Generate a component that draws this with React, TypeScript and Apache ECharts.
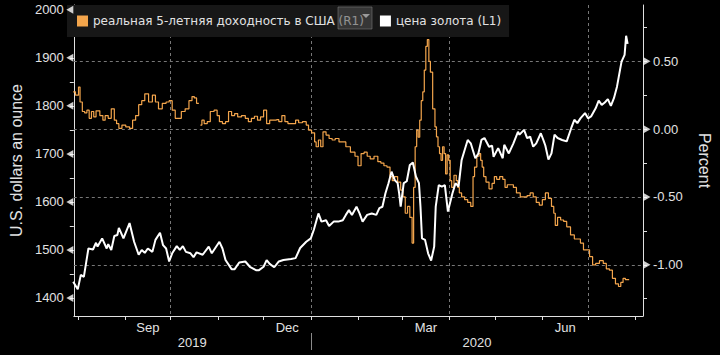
import React, { useEffect, useRef } from "react";
import * as echarts from "echarts";

// ---------- data ----------
const yieldName = "реальная 5-летняя доходность в США (R1)";
const goldName = "цена золота (L1)";

const goldSeries: [string, number][] = [
  ["2019-07-29", 1434], ["2019-08-01", 1418], ["2019-08-03", 1448], ["2019-08-05", 1444],
  ["2019-08-08", 1503], ["2019-08-11", 1501], ["2019-08-13", 1515], ["2019-08-14", 1507],
  ["2019-08-17", 1524], ["2019-08-20", 1503], ["2019-08-21", 1512], ["2019-08-23", 1500],
  ["2019-08-25", 1529], ["2019-08-27", 1531], ["2019-08-28", 1546], ["2019-08-31", 1524],
  ["2019-09-04", 1556], ["2019-09-07", 1517], ["2019-09-10", 1490], ["2019-09-12", 1500],
  ["2019-09-14", 1494], ["2019-09-16", 1503], ["2019-09-19", 1496], ["2019-09-21", 1521],
  ["2019-09-24", 1536], ["2019-09-26", 1510], ["2019-09-28", 1503], ["2019-09-30", 1476],
  ["2019-10-02", 1493], ["2019-10-05", 1508], ["2019-10-07", 1500], ["2019-10-09", 1508],
  ["2019-10-11", 1496], ["2019-10-14", 1493], ["2019-10-16", 1485], ["2019-10-18", 1495],
  ["2019-10-22", 1490], ["2019-10-26", 1507], ["2019-10-28", 1493], ["2019-11-02", 1517],
  ["2019-11-04", 1503], ["2019-11-06", 1479], ["2019-11-10", 1460], ["2019-11-12", 1460],
  ["2019-11-15", 1474], ["2019-11-19", 1476], ["2019-11-22", 1465], ["2019-11-26", 1458],
  ["2019-11-28", 1458], ["2019-12-01", 1465], ["2019-12-03", 1479], ["2019-12-05", 1471],
  ["2019-12-08", 1464], ["2019-12-11", 1476], ["2019-12-14", 1479], ["2019-12-19", 1481],
  ["2019-12-22", 1483], ["2019-12-25", 1504], ["2019-12-29", 1517], ["2020-01-01", 1524],
  ["2020-01-03", 1542], ["2020-01-06", 1576], ["2020-01-08", 1559], ["2020-01-11", 1562],
  ["2020-01-13", 1550], ["2020-01-16", 1559], ["2020-01-19", 1559], ["2020-01-22", 1562],
  ["2020-01-24", 1573], ["2020-01-26", 1583], ["2020-01-28", 1573], ["2020-01-31", 1590],
  ["2020-02-02", 1576], ["2020-02-04", 1559], ["2020-02-07", 1573], ["2020-02-10", 1576],
  ["2020-02-13", 1573], ["2020-02-15", 1587], ["2020-02-17", 1590], ["2020-02-19", 1618],
  ["2020-02-21", 1639], ["2020-02-23", 1663], ["2020-02-25", 1646], ["2020-02-27", 1639],
  ["2020-02-28", 1618], ["2020-02-29", 1590], ["2020-03-02", 1639], ["2020-03-04", 1643],
  ["2020-03-06", 1677], ["2020-03-08", 1682], ["2020-03-10", 1653], ["2020-03-12", 1639],
  ["2020-03-13", 1590], ["2020-03-14", 1524], ["2020-03-16", 1521], ["2020-03-18", 1493],
  ["2020-03-20", 1478], ["2020-03-22", 1507], ["2020-03-23", 1590], ["2020-03-25", 1635],
  ["2020-03-27", 1632], ["2020-03-29", 1635], ["2020-03-31", 1580], ["2020-04-03", 1618],
  ["2020-04-05", 1639], ["2020-04-07", 1632], ["2020-04-09", 1687], ["2020-04-11", 1708],
  ["2020-04-13", 1729], ["2020-04-15", 1722], ["2020-04-18", 1691], ["2020-04-20", 1701],
  ["2020-04-22", 1729], ["2020-04-24", 1733], ["2020-04-27", 1715], ["2020-04-29", 1717],
  ["2020-04-30", 1694], ["2020-05-03", 1712], ["2020-05-06", 1691], ["2020-05-07", 1719],
  ["2020-05-10", 1701], ["2020-05-13", 1722], ["2020-05-16", 1746], ["2020-05-17", 1740],
  ["2020-05-20", 1750], ["2020-05-22", 1733], ["2020-05-24", 1736], ["2020-05-26", 1715],
  ["2020-05-28", 1722], ["2020-05-31", 1743], ["2020-06-02", 1726], ["2020-06-03", 1717],
  ["2020-06-05", 1688], ["2020-06-07", 1701], ["2020-06-09", 1740], ["2020-06-11", 1733],
  ["2020-06-14", 1729], ["2020-06-17", 1726], ["2020-06-20", 1754], ["2020-06-22", 1771],
  ["2020-06-24", 1764], ["2020-06-26", 1774], ["2020-06-29", 1785], ["2020-07-01", 1774],
  ["2020-07-03", 1778], ["2020-07-06", 1795], ["2020-07-08", 1811], ["2020-07-10", 1802],
  ["2020-07-12", 1807], ["2020-07-14", 1814], ["2020-07-16", 1800], ["2020-07-18", 1816],
  ["2020-07-20", 1840], ["2020-07-22", 1875], ["2020-07-23", 1892], ["2020-07-25", 1906],
  ["2020-07-26", 1946], ["2020-07-27", 1929],
];

const yieldSeries: [string, number | null][] = [
  ["2019-07-29", 0.275], ["2019-08-01", 0.25], ["2019-08-02", 0.31], ["2019-08-03", 0.2],
  ["2019-08-05", 0.13], ["2019-08-06", 0.12], ["2019-08-08", 0.14], ["2019-08-09", 0.08],
  ["2019-08-11", 0.13], ["2019-08-12", 0.09], ["2019-08-14", 0.135], ["2019-08-17", 0.1],
  ["2019-08-18", 0.066], ["2019-08-20", 0.1], ["2019-08-22", 0.08], ["2019-08-24", 0.15],
  ["2019-08-26", 0.066], ["2019-08-27", 0.04], ["2019-08-29", 0.005], ["2019-08-31", 0.03],
  ["2019-09-03", 0.017], ["2019-09-05", 0.005], ["2019-09-07", 0.066], ["2019-09-09", 0.1],
  ["2019-09-11", 0.18], ["2019-09-13", 0.21], ["2019-09-15", 0.26], ["2019-09-18", 0.2],
  ["2019-09-20", 0.25], ["2019-09-22", 0.2], ["2019-09-24", 0.15], ["2019-09-27", 0.19],
  ["2019-09-29", 0.2], ["2019-10-01", 0.21], ["2019-10-03", 0.14], ["2019-10-05", 0.08],
  ["2019-10-07", 0.08], ["2019-10-09", 0.13], ["2019-10-12", 0.15], ["2019-10-14", 0.21],
  ["2019-10-16", 0.24], ["2019-10-17", 0.23], ["2019-10-19", 0.19], ["2019-10-20", null],
  ["2019-10-21", 0.03], ["2019-10-22", 0.066], ["2019-10-24", 0.04], ["2019-10-26", 0.055],
  ["2019-10-28", 0.13], ["2019-10-31", 0.14], ["2019-11-01", 0.1], ["2019-11-03", 0.055],
  ["2019-11-05", 0.04], ["2019-11-07", 0.055], ["2019-11-09", 0.13], ["2019-11-11", 0.1],
  ["2019-11-13", 0.115], ["2019-11-15", 0.09], ["2019-11-18", 0.1], ["2019-11-20", 0.08],
  ["2019-11-22", 0.055], ["2019-11-24", 0.08], ["2019-11-26", 0.095], ["2019-11-28", 0.066],
  ["2019-11-30", 0.09], ["2019-12-02", 0.14], ["2019-12-04", 0.04], ["2019-12-06", 0.066],
  ["2019-12-08", 0.066], ["2019-12-10", 0.07], ["2019-12-12", 0.055], ["2019-12-14", 0.1],
  ["2019-12-16", 0.055], ["2019-12-18", 0.04], ["2019-12-21", 0.04], ["2019-12-23", 0.066],
  ["2019-12-25", 0.047], ["2019-12-28", 0.055], ["2019-12-30", 0.03], ["2019-12-31", -0.007],
  ["2020-01-03", -0.027], ["2020-01-04", -0.094], ["2020-01-05", -0.13], ["2020-01-07", -0.08],
  ["2020-01-08", -0.13], ["2020-01-10", -0.02], ["2020-01-12", -0.044], ["2020-01-14", -0.069],
  ["2020-01-16", -0.08], ["2020-01-18", -0.069], ["2020-01-21", -0.094], ["2020-01-23", -0.094],
  ["2020-01-25", -0.13], ["2020-01-29", -0.17], ["2020-01-31", -0.2], ["2020-02-02", -0.27],
  ["2020-02-04", -0.18], ["2020-02-06", -0.17], ["2020-02-08", -0.2], ["2020-02-10", -0.22],
  ["2020-02-13", -0.2], ["2020-02-15", -0.24], ["2020-02-17", -0.25], ["2020-02-19", -0.27],
  ["2020-02-21", -0.28], ["2020-02-23", -0.35], ["2020-02-24", -0.38], ["2020-02-26", -0.35],
  ["2020-02-28", -0.39], ["2020-03-01", -0.45], ["2020-03-02", -0.5], ["2020-03-04", -0.62],
  ["2020-03-05", -0.57], ["2020-03-07", -0.65], ["2020-03-08", -0.84], ["2020-03-09", -0.43],
  ["2020-03-10", -0.13], ["2020-03-11", -0.007], ["2020-03-12", -0.06], ["2020-03-13", 0.066],
  ["2020-03-14", 0.21], ["2020-03-15", 0.275], ["2020-03-16", 0.435], ["2020-03-17", 0.61],
  ["2020-03-18", 0.66], ["2020-03-19", 0.5], ["2020-03-20", 0.42], ["2020-03-22", 0.15],
  ["2020-03-23", 0.017], ["2020-03-24", -0.057], ["2020-03-25", -0.13], ["2020-03-26", -0.18],
  ["2020-03-27", -0.23], ["2020-03-28", -0.13], ["2020-03-29", -0.18], ["2020-03-30", -0.33],
  ["2020-03-31", -0.19], ["2020-04-01", -0.23], ["2020-04-02", -0.38], ["2020-04-03", -0.43],
  ["2020-04-05", -0.34], ["2020-04-06", -0.38], ["2020-04-07", -0.43], ["2020-04-08", -0.47],
  ["2020-04-10", -0.5], ["2020-04-12", -0.52], ["2020-04-14", -0.54], ["2020-04-16", -0.57],
  ["2020-04-17", -0.35], ["2020-04-18", -0.28], ["2020-04-20", -0.2], ["2020-04-21", -0.18],
  ["2020-04-22", -0.23], ["2020-04-23", -0.28], ["2020-04-24", -0.35], ["2020-04-26", -0.39],
  ["2020-04-28", -0.44], ["2020-04-30", -0.4], ["2020-05-01", -0.35], ["2020-05-03", -0.37],
  ["2020-05-05", -0.35], ["2020-05-07", -0.37], ["2020-05-08", -0.43], ["2020-05-10", -0.41],
  ["2020-05-12", -0.41], ["2020-05-14", -0.43], ["2020-05-16", -0.47], ["2020-05-19", -0.5],
  ["2020-05-21", -0.5], ["2020-05-23", -0.49], ["2020-05-25", -0.47], ["2020-05-27", -0.5],
  ["2020-05-29", -0.54], ["2020-05-31", -0.56], ["2020-06-02", -0.52], ["2020-06-04", -0.47],
  ["2020-06-06", -0.51], ["2020-06-08", -0.57], ["2020-06-09", -0.62], ["2020-06-10", -0.71],
  ["2020-06-12", -0.65], ["2020-06-14", -0.67], ["2020-06-16", -0.68], ["2020-06-18", -0.72],
  ["2020-06-21", -0.78], ["2020-06-23", -0.81], ["2020-06-25", -0.81], ["2020-06-27", -0.84],
  ["2020-06-29", -0.89], ["2020-07-01", -0.89], ["2020-07-03", -0.94], ["2020-07-05", -1.0],
  ["2020-07-07", -0.99], ["2020-07-10", -0.97], ["2020-07-12", -0.99], ["2020-07-14", -1.03],
  ["2020-07-16", -1.04], ["2020-07-18", -1.1], ["2020-07-20", -1.14], ["2020-07-22", -1.16],
  ["2020-07-23", -1.13], ["2020-07-25", -1.1], ["2020-07-26", -1.11], ["2020-07-28", -1.11],
];

const monthStarts = [
  "2019-08-01", "2019-09-01", "2019-10-01", "2019-11-01", "2019-12-01", "2020-01-01",
  "2020-02-01", "2020-03-01", "2020-04-01", "2020-05-01", "2020-06-01", "2020-07-01", "2020-08-01",
];
const monthLabels: [string, string, string][] = [
  ["Sep", "2019-09-01", "2019-10-01"],
  ["Dec", "2019-12-01", "2020-01-01"],
  ["Mar", "2020-03-01", "2020-04-01"],
  ["Jun", "2020-06-01", "2020-07-01"],
];
const quarterLines = ["2019-10-01", "2020-01-01", "2020-04-01", "2020-07-01"];
const yearLabels = ["2019", "2020"];
const yearBoundary = "2020-01-01";
const xStart = "2019-07-29T10:00:00Z";
const xEnd = "2020-08-06T02:00:00Z";

const leftLabels = [1400, 1500, 1600, 1700, 1800, 1900, 2000];
const leftTicks = [1400, 1450, 1500, 1550, 1600, 1650, 1700, 1750, 1800, 1850, 1900, 1950, 2000];
const rightLabels = [-1, -0.5, 0, 0.5];
const rightTicks = [-1.25, -1, -0.75, -0.5, -0.25, 0, 0.25, 0.5, 0.75];

// ---------- helpers ----------
const t = (s: string) => Date.parse(s.length === 10 ? s + "T00:00:00Z" : s);

const ORANGE = "#f3a54c";
const FONT = "'Liberation Sans', Arial, sans-serif";
const LEGEND_FONT = "'DejaVu Sans', Verdana, sans-serif";
const TEXT = "#e2e2e2";
const GRID = "#777777";

export default function App() {
  const ref = useRef<HTMLDivElement>(null);

  useEffect(() => {
    document.body.style.margin = "0";
    document.body.style.background = "#000";
    if (!ref.current) return;
    const chart = echarts.init(ref.current, undefined, { renderer: "svg" });

    const xMin = t(xStart);
    const xMax = t(xEnd);
    const monthLabelPos = monthLabels.map(([, a, b]) => (t(a) + t(b)) / 2);
    const monthLabelMap = new Map<number, string>();
    monthLabels.forEach(([name], i) => monthLabelMap.set(monthLabelPos[i], name));
    const yb = t(yearBoundary);
    const yearPos = [(xMin + yb) / 2, (yb + xMax) / 2];
    const yearMap = new Map<number, string>();
    yearLabels.forEach((y, i) => yearMap.set(yearPos[i], y));

    const option: any = {
      animation: false,
      backgroundColor: "#000",
      textStyle: { fontFamily: FONT },
      grid: { left: 67, right: 69, top: 5, bottom: 39, containLabel: false },
      legend: {
        left: 67,
        top: 5,
        padding: [10, 8, 10, 10],
        backgroundColor: "#171717",
        itemWidth: 11,
        itemHeight: 11,
        itemGap: 16,
        icon: "rect",
        data: [yieldName, goldName],
        textStyle: { color: TEXT, fontSize: 12, fontFamily: LEGEND_FONT },
        selectedMode: false,
      },
      xAxis: [
        {
          type: "value",
          min: xMin,
          max: xMax,
          axisLine: { show: true, onZero: false, lineStyle: { color: "#e0e0e0", width: 1 } },
          axisTick: {
            show: true,
            customValues: monthStarts.map(t),
            length: 4,
            lineStyle: { color: "#e0e0e0" },
          },
          axisLabel: {
            customValues: monthLabelPos,
            formatter: (v: number) => monthLabelMap.get(v) ?? "",
            color: TEXT,
            fontSize: 13,
            margin: 5,
            fontFamily: FONT,
          },
          splitLine: { show: false },
        },
        {
          type: "value",
          min: xMin,
          max: xMax,
          position: "bottom",
          offset: 17,
          axisLine: { show: false, onZero: false },
          axisTick: {
            show: true,
            customValues: [yb],
            length: 17,
            lineStyle: { color: "#8a8a8a" },
          },
          axisLabel: {
            customValues: yearPos,
            formatter: (v: number) => yearMap.get(v) ?? "",
            color: TEXT,
            fontSize: 13,
            margin: 3,
            fontFamily: FONT,
          },
          splitLine: { show: false },
        },
        {
          type: "value",
          min: xMin,
          max: xMax,
          position: "top",
          axisLine: { show: false, onZero: false },
          axisTick: { show: false, customValues: quarterLines.map(t) },
          axisLabel: { show: false, customValues: quarterLines.map(t) },
          splitLine: { show: true, lineStyle: { color: GRID, type: [3, 3], width: 1 } },
          z: 0,
        },
      ],
      yAxis: [
        {
          type: "value",
          position: "left",
          min: 1362.5,
          max: 2010,
          name: "U.S. dollars an ounce",
          nameLocation: "middle",
          nameGap: 36,
          nameTextStyle: { color: TEXT, fontSize: 16, fontFamily: FONT },
          axisLine: { show: true, onZero: false, lineStyle: { color: "#e0e0e0" } },
          axisTick: { show: true, customValues: leftTicks, length: 4, lineStyle: { color: "#e0e0e0" } },
          axisLabel: {
            customValues: leftLabels,
            formatter: (v: number) => String(v),
            color: TEXT,
            fontSize: 13,
            margin: 10,
            fontFamily: FONT,
          },
          splitLine: { show: false },
        },
        {
          type: "value",
          position: "right",
          min: -1.3775,
          max: 0.915,
          name: "Percent",
          nameLocation: "middle",
          nameGap: 53,
          nameRotate: -90,
          nameTextStyle: { color: TEXT, fontSize: 16, fontFamily: FONT },
          axisLine: { show: true, onZero: false, lineStyle: { color: "#e0e0e0" } },
          axisTick: { show: true, customValues: rightTicks, length: 4, lineStyle: { color: "#e0e0e0" } },
          axisLabel: {
            customValues: rightLabels,
            formatter: (v: number) => v.toFixed(2),
            color: TEXT,
            fontSize: 13,
            margin: 10,
            fontFamily: FONT,
          },
          splitLine: { show: false },
        },
      ],
      graphic: [
        {
          type: "rect",
          shape: { x: 338, y: 7, width: 34, height: 22 },
          style: { fill: "rgba(80,80,80,0.55)", stroke: "rgba(120,120,120,0.6)", lineWidth: 1 },
          z: 100,
        },
        {
          type: "polygon",
          shape: { points: [[362, 14], [370, 14], [366, 18]] },
          style: { fill: "#9a9a9a" },
          z: 101,
        },
      ],
      series: [
        {
          name: yieldName,
          type: "line",
          xAxisIndex: 0,
          yAxisIndex: 1,
          step: "middle",
          showSymbol: false,
          symbol: "none",
          connectNulls: false,
          color: ORANGE,
          lineStyle: { color: ORANGE, width: 1.2 },
          data: yieldSeries.map(([d, v]) => [t(d), v]),
          z: 3,
          markLine: {
            silent: true,
            symbol: ["none", "none"],
            label: { show: false },
            z: 1,
            lineStyle: { color: GRID, type: [3, 3], width: 1 },
            emphasis: { disabled: true },
            data: rightLabels.map((v) => ({ yAxis: v })),
          },
        },
        {
          name: goldName,
          type: "line",
          xAxisIndex: 0,
          yAxisIndex: 0,
          showSymbol: false,
          symbol: "none",
          color: "#ffffff",
          lineStyle: { color: "#ffffff", width: 2 },
          data: goldSeries.map(([d, v]) => [t(d), v]),
          z: 4,
        },
        {
          name: "leftPointers",
          type: "scatter",
          xAxisIndex: 0,
          yAxisIndex: 0,
          symbol: "triangle",
          symbolSize: [8, 7],
          symbolRotate: 90,
          symbolOffset: [-4, 0],
          clip: false,
          silent: true,
          itemStyle: { color: "#ffffff" },
          data: leftLabels.map((v) => [xMin, v]),
          z: 5,
        },
        {
          name: "rightPointers",
          type: "scatter",
          xAxisIndex: 0,
          yAxisIndex: 1,
          symbol: "triangle",
          symbolSize: [8, 7],
          symbolRotate: -90,
          symbolOffset: [4, 0],
          clip: false,
          silent: true,
          itemStyle: { color: "#ffffff" },
          data: rightLabels.map((v) => [xMax, v]),
          z: 5,
        },
      ],
    };

    chart.setOption(option);
    return () => chart.dispose();
  }, []);

  return (
    <div
      ref={ref}
      style={{ position: "fixed", left: 0, top: 0, width: 720, height: 355, background: "#000" }}
    />
  );
}
